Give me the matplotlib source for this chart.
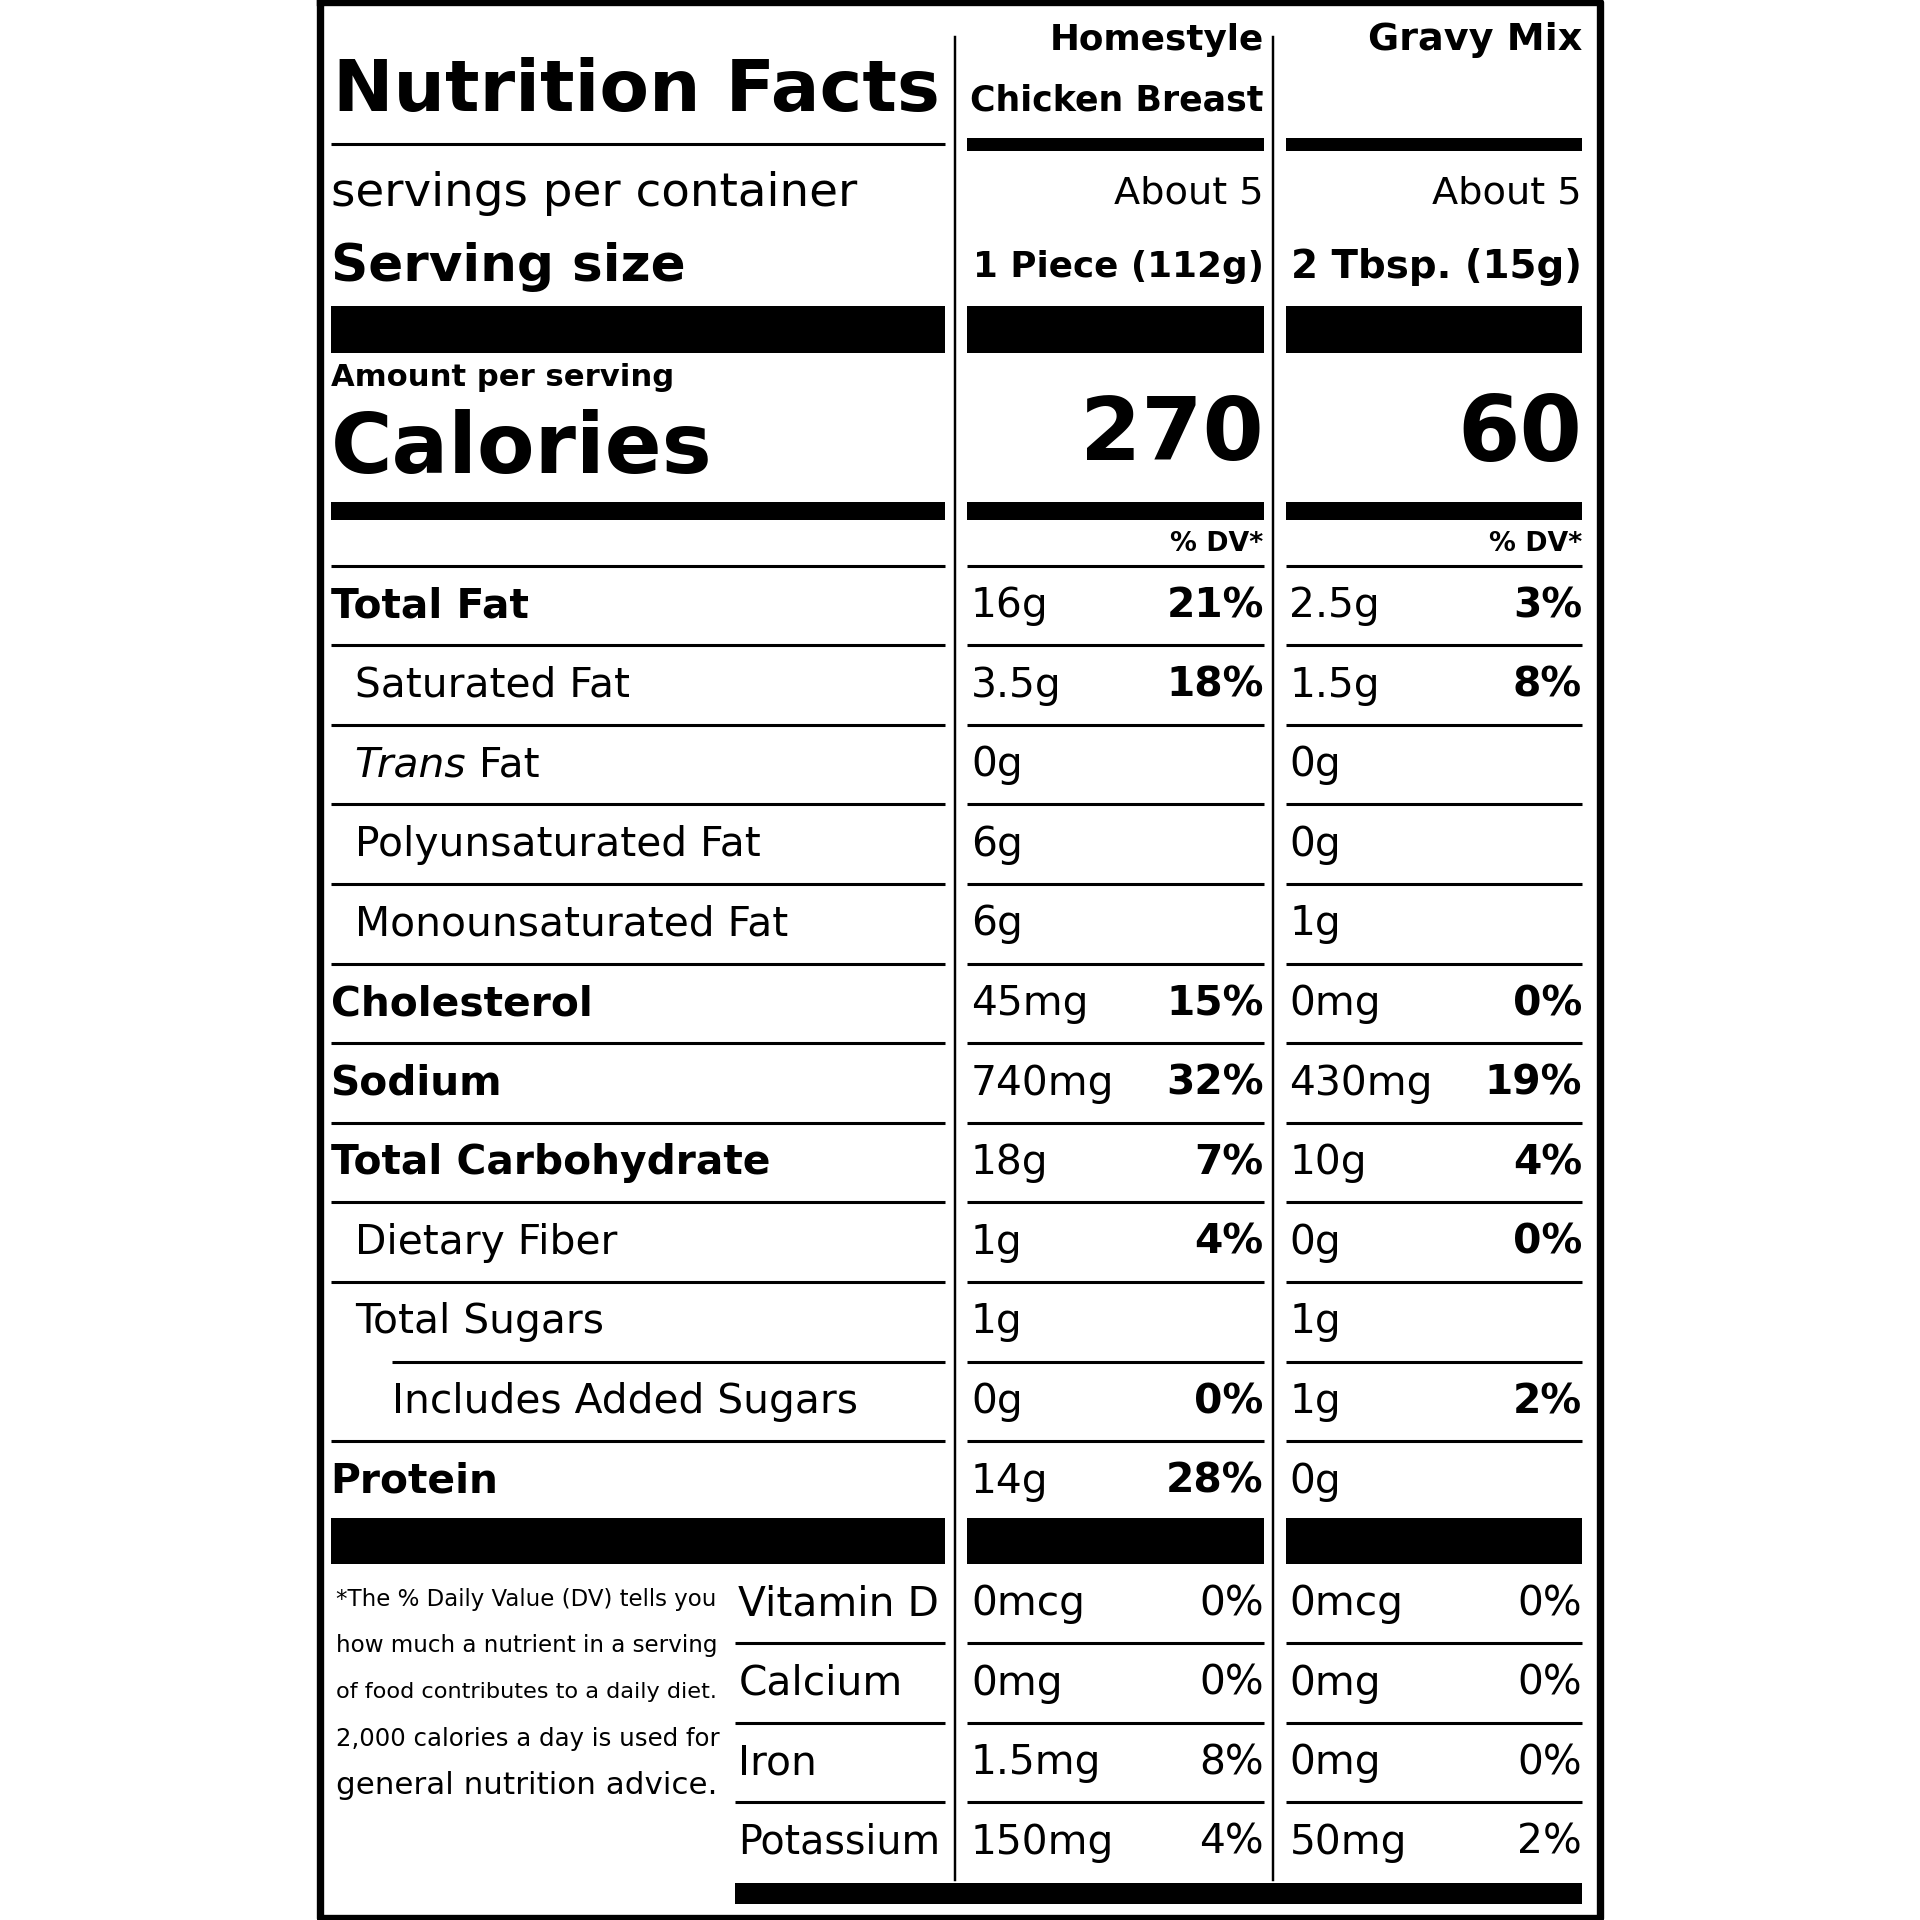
import matplotlib.pyplot as plt

FONT = ['DejaVu Sans']
PT = 19.2 * 72 / 1568  # points per layout unit
PX = 1920 / 1568       # pixels per layout unit

col_titles = [["Homestyle", "Chicken Breast"], ["Gravy Mix"]]
servings = ["About 5", "About 5"]
serving_size = ["1 Piece (112g)", "2 Tbsp. (15g)"]
calories = ["270", "60"]

nutrients = ["Total Fat", "Saturated Fat", "Trans Fat", "Polyunsaturated Fat",
             "Monounsaturated Fat", "Cholesterol", "Sodium", "Total Carbohydrate",
             "Dietary Fiber", "Total Sugars", "Includes Added Sugars", "Protein"]
indent = [0, 1, 1, 1, 1, 0, 0, 0, 1, 1, 2, 0]
chicken_amt = ["16g", "3.5g", "0g", "6g", "6g", "45mg", "740mg", "18g", "1g", "1g", "0g", "14g"]
chicken_dv = ["21%", "18%", "", "", "", "15%", "32%", "7%", "4%", "", "0%", "28%"]
gravy_amt = ["2.5g", "1.5g", "0g", "0g", "1g", "0mg", "430mg", "10g", "0g", "1g", "1g", "0g"]
gravy_dv = ["3%", "8%", "", "", "", "0%", "19%", "4%", "0%", "", "2%", ""]

vitamins = ["Vitamin D", "Calcium", "Iron", "Potassium"]
chicken_vit_amt = ["0mcg", "0mg", "1.5mg", "150mg"]
chicken_vit_dv = ["0%", "0%", "8%", "4%"]
gravy_vit_amt = ["0mcg", "0mg", "0mg", "50mg"]
gravy_vit_dv = ["0%", "0%", "0%", "2%"]

footnote = ["*The % Daily Value (DV) tells you", "how much a nutrient in a serving",
            "of food contributes to a daily diet.", "2,000 calories a day is used for",
            "general nutrition advice."]

fig = plt.figure(figsize=(19.2, 19.2), dpi=100)
ax = fig.add_axes([0, 0, 1, 1])
ax.set_xlim(0, 1568)
ax.set_ylim(1568, 0)
ax.axis('off')
renderer = fig.canvas.get_renderer()


def width(t):
    return t.get_window_extent(renderer).width / PX


def txt(x, y, s, cap, bold=False, ha='left', style='normal', maxw=None):
    fs = cap * PT / 0.72
    t = ax.text(x, y, s, fontsize=fs, family=FONT, ha=ha, va='center',
                fontweight='bold' if bold else 'normal', style=style)
    if maxw is not None:
        w = width(t)
        if w > maxw:
            t.set_fontsize(fs * maxw / w)
    return t


def hline(x0, x1, y, w=2.5):
    ax.plot([x0, x1], [y, y], color='black', lw=w * PT, solid_capstyle='butt')


def bar(x0, x1, y0, y1):
    ax.fill_between([x0, x1], y0, y1, color='black', lw=0)


L0, L1 = 270, 772
C = [(790, 1032), (1050, 1292)]
BODY = 24

# border and dividers
ax.plot([261, 1307, 1307, 261, 261], [2, 2, 1566, 1566, 2], color='black', lw=6 * PT)
for x in (780, 1040):
    ax.plot([x, x], [30, 1535], color='black', lw=2 * PT)

# header
txt(272, 75, "Nutrition Facts", 60, bold=True, maxw=496)
hline(L0, L1, 118)
txt(1032, 33, col_titles[0][0], 34, bold=True, ha='right', maxw=175)
txt(1032, 82, col_titles[0][1], 34, bold=True, ha='right', maxw=240)
txt(1292, 33, col_titles[1][0], 34, bold=True, ha='right', maxw=175)
for a, b in C:
    bar(a, b, 113, 123)

txt(270, 158, "servings per container", 34, maxw=430)
txt(270, 218, "Serving size", 34, bold=True, maxw=290)
for (a, b), s, z in zip(C, servings, serving_size):
    txt(b, 158, s, 34, ha='right', maxw=122)
    txt(b, 218, z, 34, bold=True, ha='right', maxw=238)

for a, b in [(L0, L1)] + C:
    bar(a, b, 250, 288)
    bar(a, b, 410, 425)

txt(270, 308, "Amount per serving", 22, bold=True, maxw=280)
txt(270, 367, "Calories", 58, bold=True, maxw=312)
for (a, b), c in zip(C, calories):
    txt(b, 356, c, 82, bold=True, ha='right', maxw=150 if len(c) == 3 else 102)
    txt(b, 444, "% DV*", 22, bold=True, ha='right', maxw=76)

hline(L0, L1, 462)
for a, b in C:
    hline(a, b, 462)

# nutrient rows
for i, n in enumerate(nutrients):
    y = 495 + 65 * i
    x = [270, 290, 320][indent[i]]
    bold = indent[i] == 0
    if n == "Trans Fat":
        t = txt(x, y, "Trans ", BODY, style='italic')
        txt(x + width(t), y, "Fat", BODY)
    else:
        txt(x, y, n, BODY, bold=bold)
    for (a, b), amt, dv in zip(C, (chicken_amt[i], gravy_amt[i]), (chicken_dv[i], gravy_dv[i])):
        txt(a + 3, y, amt, BODY)
        txt(b, y, dv, BODY, bold=True, ha='right')
    if i < len(nutrients) - 1:
        ly = y + 32
        hline(320 if n == "Total Sugars" else L0, L1, ly)
        for a, b in C:
            hline(a, b, ly)

for a, b in [(L0, L1)] + C:
    bar(a, b, 1240, 1277)

# vitamins
for i, v in enumerate(vitamins):
    y = 1310 + 65 * i
    txt(603, y, v, BODY, maxw=165)
    rows = zip(C, (chicken_vit_amt[i], gravy_vit_amt[i]), (chicken_vit_dv[i], gravy_vit_dv[i]))
    for (a, b), amt, dv in rows:
        txt(a + 3, y, amt, BODY)
        txt(b, y, dv, BODY, ha='right')
    if i < len(vitamins) - 1:
        hline(600, L1, y + 32)
        for a, b in C:
            hline(a, b, y + 32)
bar(600, 1292, 1538, 1555)

for i, line in enumerate(footnote):
    txt(274, 1306 + 38 * i, line, 21, maxw=312)

fig.savefig('out.png', dpi=100, facecolor='white')
